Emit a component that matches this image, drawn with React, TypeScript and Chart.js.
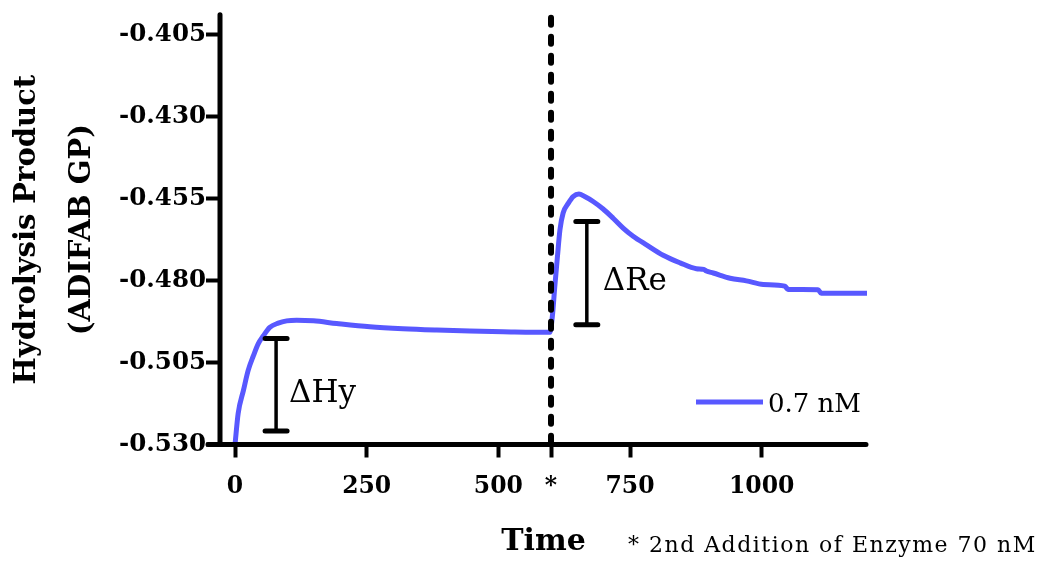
import React, { useEffect, useRef } from "react";
import { Chart, registerables } from "chart.js";

Chart.register(...registerables);

// ---- data ----
const hyTimes = [0, 6, 16, 25, 35, 44, 54, 66, 82, 98, 117, 149, 193, 256, 319, 383, 446, 509, 598];
const hyValues = [
  -0.53, -0.5205, -0.5135, -0.5074, -0.5029, -0.4993, -0.4968, -0.4943, -0.493, -0.4923, -0.4921,
  -0.4923, -0.4931, -0.4941, -0.4947, -0.4951, -0.4954, -0.4956, -0.4958,
];
const reTimes = [
  603, 607, 612, 617, 623, 633, 642, 653, 664, 680, 699, 718, 737, 756, 782, 813, 845, 876, 890, 895,
  908, 940, 971, 1003, 1044, 1050, 1107, 1113, 1199,
];
const reValues = [
  -0.4902, -0.4822, -0.4731, -0.4645, -0.4594, -0.4564, -0.4544, -0.4536, -0.4544, -0.4559, -0.4582,
  -0.461, -0.464, -0.4665, -0.4692, -0.4723, -0.4746, -0.4764, -0.4766, -0.4771, -0.4777, -0.4793,
  -0.4801, -0.4812, -0.4817, -0.4827, -0.4828, -0.4839, -0.4839,
];
const seriesLabel = "0.7 nM";

const xTicks = [0, 250, 500, 600, 750, 1000];
const yTicks = [-0.53, -0.505, -0.48, -0.455, -0.43, -0.405];
const xMin = -28.5;
const xMax = 1200;
const yMin = -0.53;
const yMax = -0.39894;

const secondAdditionTime = 600;
// [time, low value, high value]
const hyBar = [78, -0.5259, -0.4977];
const reBar = [668, -0.4935, -0.462];
const barLabels = ["\u0394Hy", "\u0394Re"];
const footnote = "* 2nd Addition of Enzyme 70 nM";

const FONT = '"DejaVu Serif"';

const decorPlugin = {
  id: "decor",
  afterDatasetsDraw(chart: any) {
    const { ctx, chartArea, scales } = chart;
    const xs = scales.x;
    const ys = scales.y;
    ctx.save();
    // dashed line for second addition
    const dx = xs.getPixelForValue(secondAdditionTime);
    ctx.strokeStyle = "#000";
    ctx.lineWidth = 6;
    ctx.lineCap = "round";
    ctx.setLineDash([7, 12]);
    ctx.beginPath();
    ctx.moveTo(dx, chartArea.top + 3);
    ctx.lineTo(dx, chartArea.bottom);
    ctx.stroke();
    ctx.setLineDash([]);

    // I-bars
    const bars = [hyBar, reBar];
    const offsets = [13, 16];
    bars.forEach((b, i) => {
      const bx = xs.getPixelForValue(b[0]);
      const yl = ys.getPixelForValue(b[1]);
      const yh = ys.getPixelForValue(b[2]);
      ctx.lineWidth = 3.5;
      ctx.lineCap = "butt";
      ctx.beginPath();
      ctx.moveTo(bx, yl);
      ctx.lineTo(bx, yh);
      ctx.stroke();
      ctx.lineWidth = 5;
      ctx.lineCap = "round";
      ctx.beginPath();
      ctx.moveTo(bx - 11, yl);
      ctx.lineTo(bx + 11, yl);
      ctx.moveTo(bx - 11, yh);
      ctx.lineTo(bx + 11, yh);
      ctx.stroke();
      ctx.fillStyle = "#000";
      ctx.font = `31px ${FONT}`;
      ctx.textBaseline = "alphabetic";
      ctx.textAlign = "left";
      ctx.fillText(barLabels[i], bx + offsets[i], (yl + yh) / 2 + 17);
    });
    ctx.restore();
  },
  afterDraw(chart: any) {
    const { ctx, chartArea } = chart;
    ctx.save();
    // axes lines
    ctx.strokeStyle = "#000";
    ctx.lineWidth = 5;
    ctx.lineCap = "round";
    ctx.beginPath();
    ctx.moveTo(chartArea.left, chartArea.top);
    ctx.lineTo(chartArea.left, chartArea.bottom);
    ctx.moveTo(chartArea.left - 12, chartArea.bottom);
    ctx.lineTo(chartArea.right - 1, chartArea.bottom);
    ctx.stroke();

    // legend
    const ds = chart.data.datasets[0];
    const lx = chartArea.right - 171;
    const ly = chartArea.bottom - 42.5;
    ctx.strokeStyle = ds.borderColor;
    ctx.lineWidth = 5;
    ctx.lineCap = "butt";
    ctx.beginPath();
    ctx.moveTo(lx, ly);
    ctx.lineTo(lx + 67, ly);
    ctx.stroke();
    ctx.fillStyle = "#000";
    ctx.font = `26px ${FONT}`;
    ctx.textBaseline = "middle";
    ctx.textAlign = "left";
    ctx.fillText(ds.label, lx + 72, ly + 3);

    // footnote
    ctx.font = `22px ${FONT}`;
    ctx.textBaseline = "alphabetic";
    (ctx as any).letterSpacing = "1.5px";
    ctx.fillText(footnote, 628, 552);
    (ctx as any).letterSpacing = "0px";
    ctx.restore();
  },
};

export default function App() {
  const ref = useRef<HTMLCanvasElement | null>(null);
  useEffect(() => {
    if (!ref.current) return;
    const allT = [...hyTimes, ...reTimes];
    const allV = [...hyValues, ...reValues];
    const points = allT.map((t, i) => ({ x: t, y: allV[i] }));
    const chart = new Chart(ref.current, {
      type: "line",
      data: {
        datasets: [
          {
            label: seriesLabel,
            data: points,
            borderColor: "rgb(88, 88, 255)",
            borderWidth: 5,
            pointRadius: 0,
            cubicInterpolationMode: "monotone",
            fill: false,
            borderCapStyle: "round",
            borderJoinStyle: "round",
          },
        ],
      },
      options: {
        animation: false,
        responsive: true,
        maintainAspectRatio: false,
        layout: { padding: { left: 0, top: 12, right: 181, bottom: 0 } },
        plugins: { legend: { display: false }, tooltip: { enabled: false } },
        scales: {
          x: {
            type: "linear",
            min: xMin,
            max: xMax,
            afterFit: (s: any) => {
              s.height = 118.5;
            },
            afterBuildTicks: (s: any) => {
              s.ticks = xTicks.map((v) => ({ value: v }));
            },
            border: { display: false },
            grid: {
              drawOnChartArea: false,
              drawTicks: true,
              tickLength: 13,
              tickWidth: 4,
              tickColor: "#000",
            },
            ticks: {
              color: "#000",
              padding: 15,
              font: { family: "DejaVu Serif", size: 23.5, weight: "bold" },
              callback: (v: any) => (v === secondAdditionTime ? "*" : String(v)),
            },
            title: {
              display: true,
              text: "Time",
              color: "#000",
              font: { family: "DejaVu Serif", size: 30, weight: "bold" },
              padding: { top: 0, bottom: 3 },
            },
          },
          y: {
            type: "linear",
            min: yMin,
            max: yMax,
            afterFit: (s: any) => {
              s.width = 220;
            },
            afterBuildTicks: (s: any) => {
              s.ticks = yTicks.map((v) => ({ value: v }));
            },
            border: { display: false },
            grid: {
              drawOnChartArea: false,
              drawTicks: true,
              tickLength: 14,
              tickWidth: 4,
              tickColor: "#000",
            },
            ticks: {
              color: "#000",
              padding: 0,
              font: { family: "DejaVu Serif", size: 24.5, weight: "bold" },
              callback: (v: any) => Number(v).toFixed(3),
            },
            title: {
              display: true,
              text: ["Hydrolysis Product", "(ADIFAB GP)"],
              color: "#000",
              font: { family: "DejaVu Serif", size: 29, weight: "bold", lineHeight: 1.9 },
              padding: { top: 0, bottom: 0 },
            },
          },
        },
      },
      plugins: [decorPlugin],
    } as any);
    return () => chart.destroy();
  }, []);
  return (
    <div style={{ position: "fixed", left: 0, top: 0, width: 1048, height: 563, background: "#fff" }}>
      <canvas ref={ref} />
    </div>
  );
}
